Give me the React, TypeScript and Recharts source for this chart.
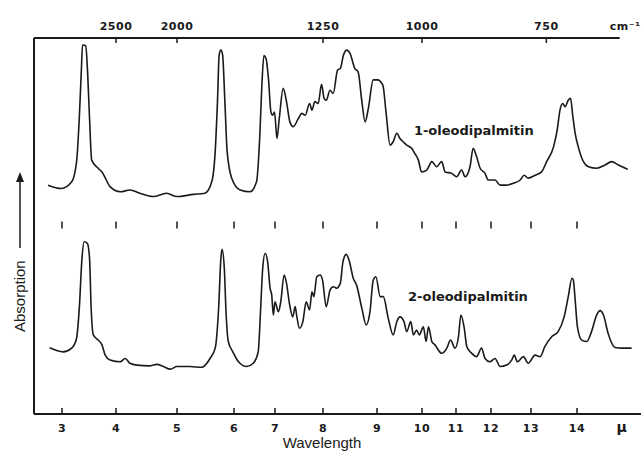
import React from 'react';
import {
  LineChart,
  Line,
  XAxis,
  YAxis,
  Scatter,
  ReferenceLine,
} from 'recharts';

// wavelength (μ) of each reading
const topWl = [
  2.75, 2.99, 3.18, 3.27, 3.32, 3.36, 3.38, 3.44, 3.47, 3.51,
  3.55, 3.67, 3.74, 3.89, 4.07, 4.23, 4.39, 4.61, 4.83, 5.0,
  5.29, 5.49, 5.61, 5.67, 5.71, 5.74, 5.77, 5.8, 5.84, 5.88,
  5.96, 6.15, 6.39, 6.55, 6.63, 6.68, 6.73, 6.78, 6.84, 6.9,
  6.94, 6.99, 7.04, 7.09, 7.17, 7.24, 7.31, 7.38, 7.49, 7.56,
  7.63, 7.72, 7.77, 7.83, 7.9, 7.97, 8.02, 8.06, 8.13, 8.19,
  8.27, 8.32, 8.38, 8.44, 8.5, 8.59, 8.65, 8.72, 8.78, 8.84,
  8.93, 9.01, 9.13, 9.2, 9.29, 9.36, 9.44, 9.51, 9.58, 9.66,
  9.77, 9.84, 9.92, 9.99, 10.14, 10.29, 10.43, 10.58, 10.68, 10.87,
  11.02, 11.16, 11.26, 11.4, 11.49, 11.59, 11.69, 11.83, 11.92, 12.1,
  12.23, 12.39, 12.56, 12.73, 12.83, 12.93, 13.09, 13.23, 13.34, 13.49,
  13.57, 13.63, 13.69, 13.74, 13.81, 13.86, 13.91, 13.96, 14.03, 14.15,
  14.27, 14.46, 14.66, 14.81, 14.97, 15.19,
];
// 1-oleodipalmitin, absorption (chart units, offset trace)
const topAbs = [
  61.1, 60.2, 62.0, 67.5, 79.3, 92.9, 99.2, 99.0, 92.9, 79.3,
  67.9, 65.7, 64.7, 60.7, 59.3, 59.8, 58.9, 58.0, 58.9, 58.0,
  58.6, 58.9, 62.0, 70.2, 83.8, 96.5, 97.8, 96.5, 83.8, 70.2,
  63.0, 59.8, 59.3, 62.0, 74.7, 88.3, 96.3, 95.6, 90.1, 81.0,
  80.1, 81.0, 73.8, 79.3, 87.4, 83.8, 78.3, 77.0, 79.3, 80.6,
  80.1, 83.3, 81.5, 83.8, 83.3, 88.5, 84.7, 84.2, 86.9, 86.0,
  92.4, 92.8, 96.5, 97.8, 96.9, 92.8, 91.9, 83.8, 78.3, 82.0,
  89.7, 89.7, 88.3, 81.0, 72.0, 72.9, 75.2, 73.8, 72.9, 72.0,
  71.1, 69.7, 67.9, 64.7, 65.2, 67.5, 66.1, 67.5, 64.7, 64.3,
  63.4, 65.2, 63.4, 66.1, 71.1, 68.8, 65.7, 64.3, 62.5, 62.5,
  61.1, 61.1, 61.6, 62.5, 63.8, 63.0, 63.8, 64.7, 67.5, 71.5,
  76.1, 81.5, 83.3, 82.4, 84.2, 84.7, 79.7, 75.2, 71.5, 67.5,
  66.1, 65.7, 66.6, 67.5, 66.6, 65.4,
];

const bottomWl = [
  2.78, 3.02, 3.18, 3.27, 3.32, 3.37, 3.41, 3.47, 3.51, 3.54,
  3.58, 3.67, 3.74, 3.8, 3.89, 4.07, 4.15, 4.23, 4.34, 4.56,
  4.67, 4.78, 4.89, 5.0, 5.23, 5.43, 5.58, 5.67, 5.73, 5.77,
  5.79, 5.83, 5.86, 5.9, 5.98, 6.11, 6.31, 6.47, 6.59, 6.65,
  6.7, 6.76, 6.82, 6.88, 6.92, 6.96, 7.0, 7.07, 7.12, 7.19,
  7.24, 7.3, 7.37, 7.42, 7.45, 7.51, 7.58, 7.65, 7.72, 7.77,
  7.81, 7.87, 7.94, 7.99, 8.06, 8.13, 8.19, 8.25, 8.32, 8.37,
  8.43, 8.49, 8.56, 8.62, 8.72, 8.8, 8.87, 8.93, 8.98, 9.07,
  9.14, 9.25, 9.36, 9.44, 9.51, 9.6, 9.66, 9.75, 9.81, 9.88,
  9.94, 10.04, 10.12, 10.19, 10.29, 10.38, 10.58, 10.73, 10.84, 10.97,
  11.07, 11.14, 11.23, 11.31, 11.45, 11.59, 11.73, 11.83, 11.97, 12.1,
  12.23, 12.39, 12.52, 12.58, 12.66, 12.81, 12.93, 13.09, 13.2, 13.3,
  13.45, 13.59, 13.72, 13.81, 13.89, 13.92, 13.96, 14.01, 14.11, 14.23,
  14.34, 14.46, 14.54, 14.62, 14.73, 14.89, 15.05, 15.28,
];
// 2-oleodipalmitin
const bottomAbs = [
  16.9, 15.8, 16.8, 19.5, 27.6, 41.2, 45.7, 45.3, 41.2, 27.6,
  20.4, 19.0, 17.7, 14.9, 13.6, 13.1, 14.0, 12.7, 12.2, 12.0,
  12.4, 11.8, 11.1, 11.8, 11.8, 11.6, 14.0, 16.8, 27.6, 41.2,
  43.7, 38.5, 26.7, 18.6, 15.8, 13.1, 11.8, 12.7, 15.8, 27.6,
  38.5, 42.6, 40.3, 33.1, 31.2, 25.8, 29.4, 26.7, 29.4, 36.7,
  34.4, 29.0, 25.3, 28.1, 25.8, 22.2, 24.0, 29.4, 27.2, 32.1,
  30.8, 36.2, 36.7, 35.3, 28.1, 32.6, 33.5, 33.1, 34.4, 40.3,
  42.3, 40.3, 35.8, 34.0, 27.6, 23.1, 26.7, 35.3, 36.2, 30.8,
  30.8, 24.9, 20.4, 24.0, 25.3, 24.0, 21.3, 24.0, 20.4, 21.7,
  20.4, 22.6, 18.6, 22.6, 18.6, 17.7, 15.4, 16.8, 19.0, 16.8,
  19.9, 25.8, 22.6, 17.2, 15.4, 14.5, 16.8, 14.0, 13.1, 14.0,
  11.8, 12.2, 13.6, 14.9, 13.1, 14.5, 12.7, 14.9, 14.5, 17.2,
  19.9, 21.3, 25.3, 30.8, 35.8, 35.3, 29.9, 22.6, 19.0, 18.6,
  21.3, 25.8, 27.0, 25.8, 20.8, 17.0, 16.8, 16.8,
];

const wavelengthTicks = [3, 4, 5, 6, 7, 8, 9, 10, 11, 12, 13, 14];
const wavenumberTicks = [2500, 2000, 1250, 1000, 750];
const MU_UNIT_AT = 15.05;
const CM_UNIT_AT = 14.77;

const sampleNames = ['1-oleodipalmitin', '2-oleodipalmitin'];
const nameWl = [9.82, 9.69];
const nameAbs = [74.8, 29.5];
const MID_ROW = 50.3;

// prism spectrometer chart paper: wavelength -> distance along the paper
const PAPER_MU = [2.5, 3, 4, 5, 6, 7, 8, 9, 10, 11, 12, 13, 14, 15.5];
const PAPER_POS = [0, 28, 82, 143, 200, 241, 289, 343, 388, 422, 457, 497, 543, 607];

function interp(v: number, xs: number[], ys: number[]) {
  const n = xs.length;
  let i = 0;
  if (v >= xs[n - 1]) i = n - 2;
  else while (i < n - 2 && v > xs[i + 1]) i++;
  const t = (v - xs[i]) / (xs[i + 1] - xs[i]);
  return ys[i] + t * (ys[i + 1] - ys[i]);
}

function paperScale(dom: number[] = [2.5, 15.5], rng: number[] = [0, 1]): any {
  const scale: any = (mu: number) => {
    const p0 = interp(dom[0], PAPER_MU, PAPER_POS);
    const p1 = interp(dom[1], PAPER_MU, PAPER_POS);
    return rng[0] + ((interp(mu, PAPER_MU, PAPER_POS) - p0) / (p1 - p0)) * (rng[1] - rng[0]);
  };
  scale.domain = (d?: any) => {
    if (d === undefined) return dom.slice();
    dom = [Number(d[0]), Number(d[d.length - 1])];
    return scale;
  };
  scale.range = (r?: any) => {
    if (r === undefined) return rng.slice();
    rng = [Number(r[0]), Number(r[r.length - 1])];
    return scale;
  };
  scale.copy = () => paperScale(dom.slice(), rng.slice());
  scale.invert = (px: number) => {
    const p0 = interp(dom[0], PAPER_MU, PAPER_POS);
    const p1 = interp(dom[1], PAPER_MU, PAPER_POS);
    const p = p0 + ((px - rng[0]) / (rng[1] - rng[0])) * (p1 - p0);
    return interp(p, PAPER_POS, PAPER_MU);
  };
  scale.ticks = () => wavelengthTicks.slice();
  scale.tickFormat = () => (v: number) => String(v);
  scale.nice = () => scale;
  scale.clamp = () => scale;
  return scale;
}

const xScale = paperScale();
const xScaleTop = paperScale();

const topData = topWl.map((wl, i) => ({ wl, v: topAbs[i] }));
const bottomData = bottomWl.map((wl, i) => ({ wl, v: bottomAbs[i] }));
const midTicks = wavelengthTicks.map((wl) => ({ wl, v: MID_ROW }));
const names = sampleNames.map((name, i) => ({ wl: nameWl[i], v: nameAbs[i], name }));

const INK = '#1a1a1a';
const tickFont = {
  fontFamily: '"DejaVu Sans", sans-serif',
  fontWeight: 700,
  fontSize: 11,
  letterSpacing: 0.5,
};

function BottomTick(props: any) {
  const { x, y, payload } = props;
  const unit = payload.value === MU_UNIT_AT;
  return (
    <g>
      {!unit && <line x1={x} x2={x} y1={y} y2={y - 6} stroke={INK} strokeWidth={1.5} />}
      <text x={x} y={y + 18} textAnchor="middle" fill={INK} style={unit ? { ...tickFont, fontSize: 14 } : tickFont}>
        {unit ? 'μ' : payload.value}
      </text>
    </g>
  );
}

function TopTick(props: any) {
  const { x, y, payload } = props;
  const unit = payload.value === CM_UNIT_AT;
  return (
    <g>
      {!unit && <line x1={x} x2={x} y1={y} y2={y + 5} stroke={INK} strokeWidth={1.5} />}
      <text x={x} y={y - 8} textAnchor={unit ? 'start' : 'middle'} fill={INK} style={tickFont}>
        {unit ? 'cm⁻¹' : Math.round(10000 / payload.value)}
      </text>
    </g>
  );
}

function MidTick(props: any) {
  const { cx, cy } = props;
  return <line x1={cx} x2={cx} y1={cy - 3.5} y2={cy + 3.5} stroke={INK} strokeWidth={1.5} />;
}

function NameText(props: any) {
  const { cx, cy, payload } = props;
  return (
    <text x={cx} y={cy} fill={INK} style={{ fontFamily: '"DejaVu Sans", sans-serif', fontWeight: 700, fontSize: 13 }}>
      {payload.name}
    </text>
  );
}

function AbsorptionLabel() {
  return (
    <g>
      <text
        x={25}
        y={332}
        transform="rotate(-90 25 332)"
        fill={INK}
        style={{ fontFamily: '"Liberation Sans", sans-serif', fontSize: 15 }}
      >
        Absorption
      </text>
      <line x1={20} x2={20} y1={248} y2={176} stroke={INK} strokeWidth={1.5} />
      <path d="M16,182 L20,172 L24,182 Z" fill={INK} />
    </g>
  );
}

function WavelengthLabel() {
  return (
    <text
      x={322}
      y={448}
      textAnchor="middle"
      fill={INK}
      style={{ fontFamily: '"Liberation Sans", sans-serif', fontSize: 15 }}
    >
      Wavelength
    </text>
  );
}

export default function App() {
  return (
    <div style={{ width: 641, height: 453, background: '#fff' }}>
      <style>{'body{margin:0}'}</style>
      <LineChart width={641} height={453} margin={{ top: 0, right: 0, bottom: 0, left: 33 }}>
        <XAxis
          xAxisId="bottom"
          dataKey="wl"
          type="number"
          scale={xScale}
          domain={[2.5, 15.5]}
          ticks={[...wavelengthTicks, MU_UNIT_AT]}
          interval={0}
          height={39}
          tickSize={0}
          tickMargin={0}
          tickLine={false}
          axisLine={{ stroke: INK, strokeWidth: 2 }}
          tick={<BottomTick />}
          label={<WavelengthLabel />}
        />
        <XAxis
          xAxisId="top"
          orientation="top"
          dataKey="wl"
          type="number"
          scale={xScaleTop}
          domain={[2.5, 15.5]}
          ticks={[...wavenumberTicks.map((w) => 10000 / w), CM_UNIT_AT]}
          interval={0}
          height={38}
          tickSize={0}
          tickMargin={0}
          tickLine={false}
          axisLine={false}
          tick={<TopTick />}
        />
        <YAxis
          dataKey="v"
          type="number"
          domain={[-1.09, 101.09]}
          width={1}
          tick={false}
          tickLine={false}
          axisLine={{ stroke: INK, strokeWidth: 2 }}
          label={<AbsorptionLabel />}
        />
        <ReferenceLine
          xAxisId="top"
          segment={[
            { x: 2.5, y: 101.09 },
            { x: 15.0, y: 101.09 },
          ]}
          stroke={INK}
          strokeWidth={2}
          ifOverflow="visible"
        />
        <Line
          xAxisId="bottom"
          data={topData}
          dataKey="v"
          type="monotone"
          stroke={INK}
          strokeWidth={1.6}
          dot={false}
          isAnimationActive={false}
        />
        <Line
          xAxisId="bottom"
          data={bottomData}
          dataKey="v"
          type="monotone"
          stroke={INK}
          strokeWidth={1.6}
          dot={false}
          isAnimationActive={false}
        />
        <Scatter xAxisId="top" data={midTicks} shape={<MidTick />} isAnimationActive={false} />
        <Scatter xAxisId="bottom" data={names} shape={<NameText />} isAnimationActive={false} />
      </LineChart>
    </div>
  );
}
